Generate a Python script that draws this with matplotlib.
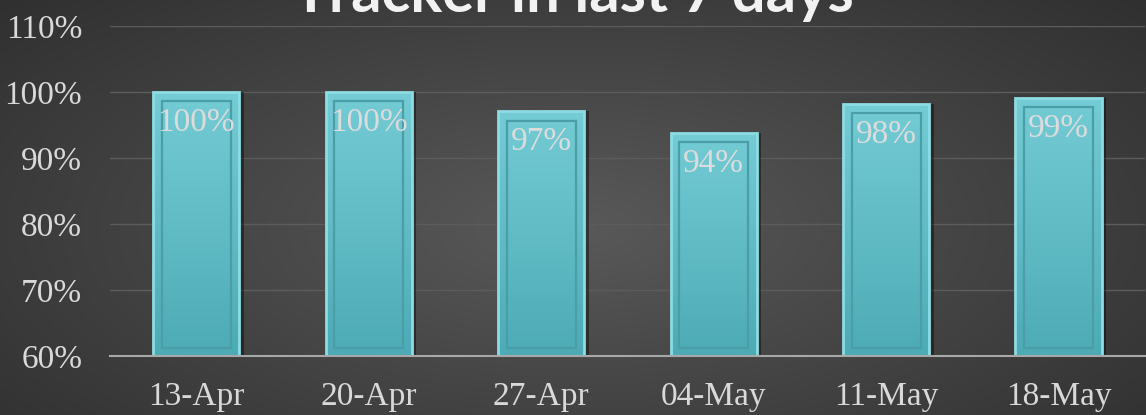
import numpy as np
import matplotlib.pyplot as plt
from matplotlib.patches import Rectangle

# data
dates = ["13-Apr", "20-Apr", "27-Apr", "04-May", "11-May", "18-May"]
values = [100.0, 100.0, 97.1, 93.8, 98.2, 99.1]
labels = ["100%", "100%", "97%", "94%", "98%", "99%"]
title = "Tracker in last 7 days"

fig = plt.figure(figsize=(11.46, 4.15), dpi=100)

# radial background
bg = fig.add_axes([0, 0, 1, 1], zorder=0)
yy, xx = np.mgrid[0:1:415j, 0:1:1146j]
r = np.sqrt(((xx - 0.5) / 0.75) ** 2 + ((yy - 0.55) / 0.9) ** 2)
shade = 0.35 - 0.18 * np.clip(r, 0, 1)
bg.imshow(np.dstack([shade] * 3), aspect="auto", extent=[0, 1, 0, 1])
bg.axis("off")

ax = fig.add_axes([0.096, 0.142, 0.903, 0.795], zorder=1)
ax.set_facecolor("none")
x = np.arange(len(dates))
w = 0.5

bars = ax.bar(x, values, width=w, bottom=0, color="#6cc6d0",
              edgecolor="#2f7880", linewidth=0.8, zorder=3)

# shadow to the right
ax.bar(x + 0.025, values, width=w, color="black", alpha=0.4, zorder=2,
       linewidth=0)

# vertical gradient inside each bar
grad = np.linspace(0, 1, 256).reshape(-1, 1)
top_c = np.array([0x74, 0xcc, 0xd5]) / 255
bot_c = np.array([0x4d, 0xab, 0xb5]) / 255
img = top_c * (1 - grad[..., None]) + bot_c * grad[..., None]
img = img.reshape(256, 1, 3)
for b in bars:
    im = ax.imshow(img, aspect="auto", zorder=3.5,
                   extent=[b.get_x(), b.get_x() + b.get_width(), 60, b.get_height()])
    im.set_clip_path(b)

# bevel frame
inset_x = 0.05
for xi, v in zip(x, values):
    ax.add_patch(Rectangle((xi - w / 2, 60), w, v - 60, fill=False,
                           edgecolor="#8edce3", linewidth=2.0, zorder=4))
    ax.add_patch(Rectangle((xi - w / 2 + inset_x, 61.2), w - 2 * inset_x, v - 62.6,
                           fill=False, edgecolor="#4b9ea7", linewidth=1.6, zorder=4))

for xi, v, lab in zip(x, values, labels):
    ax.text(xi, v - 4.6, lab, ha="center", va="center", color="#dcdcdc",
            fontsize=24, family="Liberation Serif", zorder=5)

ax.set_ylim(60, 110)
ax.set_xlim(-0.5, len(dates) - 0.5)
ax.set_yticks(range(60, 111, 10))
ax.set_yticklabels([f"{t}%" for t in range(60, 111, 10)])
ax.set_xticks(x)
ax.set_xticklabels(dates)
ax.grid(axis="y", color="#5c5c5c", linewidth=1, zorder=1)
ax.tick_params(length=0, colors="#d9d9d9", labelsize=24, pad=20)
ax.tick_params(axis="x", pad=18)
for lab in ax.get_xticklabels() + ax.get_yticklabels():
    lab.set_family("Liberation Serif")
for s in ["top", "right", "left"]:
    ax.spines[s].set_visible(False)
ax.spines["bottom"].set_color("#a8a8a8")
ax.spines["bottom"].set_linewidth(1.5)
ax.spines["bottom"].set_zorder(6)

fig.text(0.5, 1 - 12 / 415, title, ha="center", va="baseline", color="#f2f2f2",
         fontsize=43, fontweight="bold", family="Lato", zorder=5)

fig.savefig("out.png", dpi=100)
